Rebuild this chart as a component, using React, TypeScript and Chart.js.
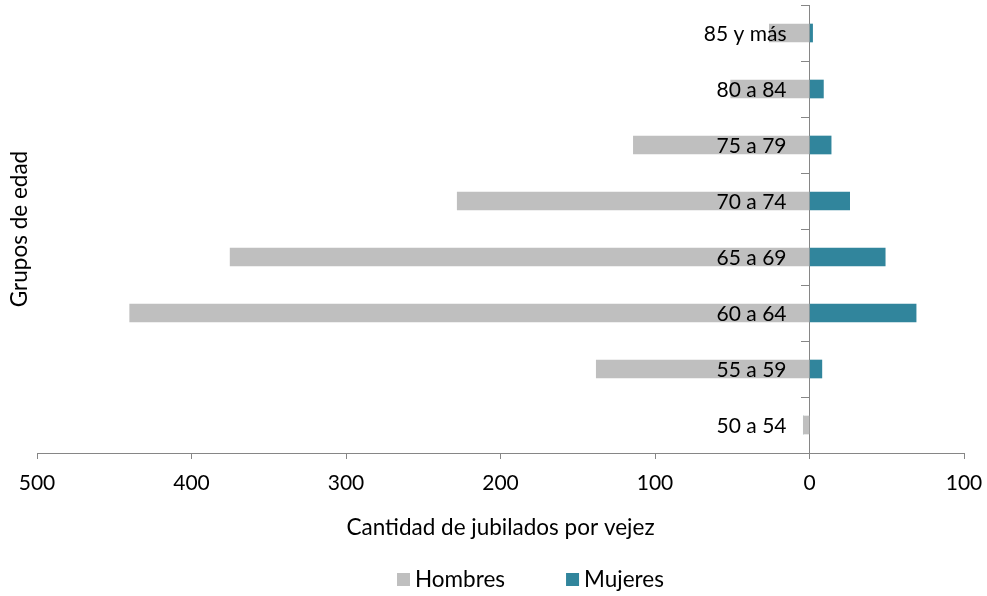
import React, { useEffect, useRef } from "react";
import { Chart, registerables } from "chart.js";

Chart.register(...registerables);

const categories = ["85 y más", "80 a 84", "75 a 79", "70 a 74", "65 a 69", "60 a 64", "55 a 59", "50 a 54"];
const hombres = [26, 51, 114, 228, 375, 440, 138, 4];
const mujeres = [2, 9, 14, 26, 49, 69, 8, 0];
const xTicks = [-500, -400, -300, -200, -100, 0, 100];

const FONT = "Lato";
const AXIS = "#868686";

const yTitlePlugin = {
  id: "yTitle",
  afterDraw(chart: any) {
    const { ctx, chartArea } = chart;
    ctx.save();
    ctx.font = `22.5px ${FONT}`;
    ctx.fillStyle = "#000";
    ctx.textAlign = "center";
    ctx.textBaseline = "middle";
    ctx.translate(20, (chartArea.top + chartArea.bottom) / 2);
    ctx.rotate(-Math.PI / 2);
    ctx.fillText("Grupos de edad", 0, 0);
    ctx.restore();
  },
};

const categoryLabelPlugin = {
  id: "categoryLabels",
  afterDatasetsDraw(chart: any) {
    const { ctx } = chart;
    const xs = chart.scales.x;
    const ys = chart.scales.y;
    const xr = xs.getPixelForValue(0) - 23;
    ctx.save();
    ctx.font = `21px ${FONT}`;
    ctx.fillStyle = "#000";
    ctx.textAlign = "right";
    ctx.textBaseline = "middle";
    categories.forEach((c, i) => {
      ctx.fillText(c, xr, ys.getPixelForValue(i) + 1);
    });
    ctx.restore();
  },
};

const legendPlugin = {
  id: "customLegend",
  afterDraw(chart: any) {
    const { ctx } = chart;
    ctx.save();
    ctx.font = `22.5px ${FONT}`;
    ctx.textBaseline = "middle";
    ctx.textAlign = "left";
    let x = 397;
    const y = 580;
    chart.data.datasets.forEach((ds: any) => {
      ctx.fillStyle = ds.backgroundColor;
      ctx.fillRect(x, y - 7, 13, 13);
      ctx.fillStyle = "#000";
      ctx.fillText(ds.label, x + 18, y);
      x += 18 + ctx.measureText(ds.label).width + 61;
    });
    ctx.restore();
  },
};

export default function App() {
  const ref = useRef<HTMLCanvasElement>(null);
  useEffect(() => {
    document.body.style.margin = "0";
    const chart = new Chart(ref.current!, {
      type: "bar",
      data: {
        labels: categories,
        datasets: [
          { label: "Hombres", data: hombres.map((v) => -v), backgroundColor: "#BFBFBF", barThickness: 18 },
          { label: "Mujeres", data: mujeres, backgroundColor: "#31859C", barThickness: 18 },
        ],
      },
      options: {
        indexAxis: "y",
        animation: false,
        responsive: false,
        layout: { padding: { top: 5, left: 37, right: 23, bottom: 0 } },
        plugins: { legend: { display: false }, tooltip: { enabled: false } },
        scales: {
          x: {
            type: "linear",
            min: -500,
            max: 100,
            stacked: true,
            afterBuildTicks: (s: any) => {
              s.ticks = xTicks.map((v) => ({ value: v }));
            },
            afterFit: (s: any) => {
              s.height = 143;
              s.paddingLeft = 0;
              s.paddingRight = 0;
            },
            ticks: {
              callback: (v: any) => String(Math.abs(Number(v))),
              font: { family: FONT, size: 21 },
              color: "#000",
              padding: 12,
              maxRotation: 0,
            },
            grid: { drawOnChartArea: false, tickLength: 6, color: AXIS },
            border: { color: AXIS },
            title: {
              display: true,
              text: "Cantidad de jubilados por vejez",
              font: { family: FONT, size: 22.5 },
              color: "#000",
              padding: { top: 4, bottom: 55 },
            },
          },
          y: {
            type: "category",
            position: { x: 0 } as any,
            stacked: true,
            offset: true,
            ticks: { display: false, autoSkip: false },
            afterFit: (s: any) => {
              s.paddingTop = 0;
              s.paddingBottom = 0;
              s.paddingLeft = 0;
              s.paddingRight = 0;
              s.width = 0;
            },
            grid: { drawOnChartArea: false, tickLength: 8, color: AXIS, offset: true },
            border: { color: AXIS },
          },
        },
      },
      plugins: [yTitlePlugin, categoryLabelPlugin, legendPlugin],
    });
    return () => chart.destroy();
  }, []);
  return (
    <div style={{ width: 987, height: 596 }}>
      <canvas ref={ref} width={987} height={596} />
    </div>
  );
}
